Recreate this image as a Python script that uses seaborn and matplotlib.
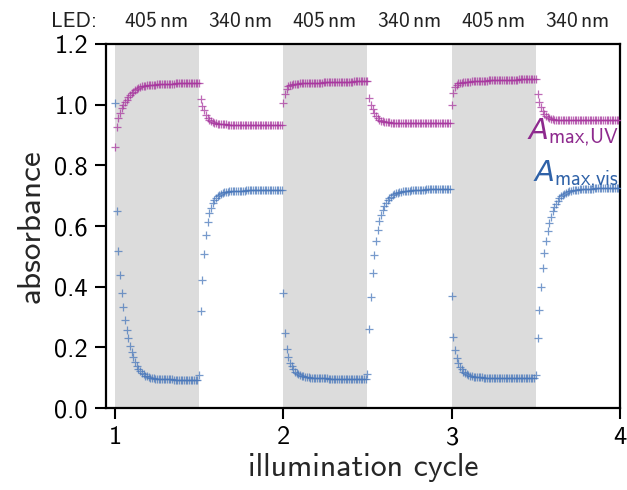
import numpy as np
import pandas as pd
import matplotlib
matplotlib.use("Agg")
import matplotlib.pyplot as plt
import matplotlib.transforms as mtransforms
import seaborn as sns

# ---------------- data ----------------
cycle_starts = [1.0, 1.5, 2.0, 2.5, 3.0, 3.5]
led_labels = [r"405$\,$nm", r"340$\,$nm", r"405$\,$nm", r"340$\,$nm", r"405$\,$nm", r"340$\,$nm"]
sample_step = 0.01

uv_c1_405 = [0.860, 0.927, 0.955, 0.974, 0.988, 0.999, 1.009, 1.017, 1.025, 1.032,
             1.038, 1.043, 1.048, 1.052, 1.055, 1.058, 1.060, 1.062, 1.063, 1.064,
             1.065, 1.065, 1.066, 1.066, 1.066, 1.067, 1.067, 1.067, 1.068, 1.068,
             1.068, 1.068, 1.069, 1.069, 1.069, 1.069, 1.070, 1.070, 1.070, 1.070,
             1.071, 1.071, 1.071, 1.071, 1.072, 1.072, 1.072, 1.072, 1.073, 1.073]
uv_c1_340 = [1.073, 1.019, 0.997, 0.981, 0.967, 0.957, 0.950, 0.945, 0.942, 0.940,
             0.938, 0.937, 0.936, 0.936, 0.935, 0.935, 0.935, 0.934, 0.934, 0.934,
             0.934, 0.934, 0.934, 0.933, 0.933, 0.933, 0.933, 0.933, 0.933, 0.933,
             0.933, 0.933, 0.933, 0.933, 0.933, 0.933, 0.933, 0.933, 0.933, 0.933,
             0.933, 0.933, 0.933, 0.933, 0.933, 0.933, 0.933, 0.933, 0.933, 0.933]
uv_c2_405 = [1.005, 1.035, 1.052, 1.060, 1.064, 1.066, 1.067, 1.068, 1.069, 1.069,
             1.070, 1.070, 1.071, 1.071, 1.071, 1.072, 1.072, 1.072, 1.072, 1.073,
             1.073, 1.073, 1.073, 1.073, 1.074, 1.074, 1.074, 1.074, 1.074, 1.075,
             1.075, 1.075, 1.075, 1.075, 1.075, 1.076, 1.076, 1.076, 1.076, 1.076,
             1.076, 1.076, 1.077, 1.077, 1.077, 1.077, 1.077, 1.077, 1.077, 1.077]
uv_c2_340 = [1.077, 1.022, 1.000, 0.985, 0.972, 0.962, 0.955, 0.950, 0.947, 0.945,
             0.944, 0.943, 0.942, 0.942, 0.941, 0.941, 0.941, 0.941, 0.940, 0.940,
             0.940, 0.940, 0.940, 0.940, 0.940, 0.940, 0.940, 0.940, 0.940, 0.940,
             0.940, 0.940, 0.940, 0.940, 0.940, 0.940, 0.940, 0.940, 0.940, 0.940,
             0.940, 0.940, 0.940, 0.940, 0.940, 0.940, 0.940, 0.940, 0.940, 0.940]
uv_c3_405 = [1.000, 1.040, 1.058, 1.066, 1.070, 1.072, 1.073, 1.074, 1.075, 1.075,
             1.076, 1.076, 1.077, 1.077, 1.077, 1.078, 1.078, 1.078, 1.079, 1.079,
             1.079, 1.079, 1.080, 1.080, 1.080, 1.080, 1.080, 1.081, 1.081, 1.081,
             1.081, 1.081, 1.081, 1.082, 1.082, 1.082, 1.082, 1.082, 1.082, 1.082,
             1.083, 1.083, 1.083, 1.083, 1.083, 1.083, 1.083, 1.083, 1.083, 1.083]
uv_c3_340 = [1.083, 1.035, 1.010, 0.992, 0.980, 0.970, 0.963, 0.958, 0.955, 0.953,
             0.952, 0.951, 0.951, 0.950, 0.950, 0.950, 0.950, 0.950, 0.950, 0.950,
             0.950, 0.950, 0.950, 0.950, 0.950, 0.950, 0.950, 0.950, 0.950, 0.950,
             0.950, 0.950, 0.950, 0.950, 0.950, 0.950, 0.950, 0.950, 0.950, 0.950,
             0.950, 0.950, 0.950, 0.950, 0.950, 0.950, 0.950, 0.950, 0.950, 0.950]

vis_c1_405 = [1.005, 0.650, 0.519, 0.437, 0.380, 0.333, 0.291, 0.257, 0.230, 0.205,
              0.185, 0.167, 0.152, 0.140, 0.130, 0.122, 0.116, 0.111, 0.107, 0.104,
              0.102, 0.100, 0.099, 0.098, 0.097, 0.097, 0.096, 0.096, 0.095, 0.095,
              0.095, 0.094, 0.094, 0.094, 0.094, 0.093, 0.093, 0.093, 0.093, 0.093,
              0.092, 0.092, 0.092, 0.092, 0.092, 0.092, 0.091, 0.091, 0.091, 0.091]
vis_c1_340 = [0.108, 0.319, 0.421, 0.507, 0.571, 0.613, 0.642, 0.660, 0.675, 0.685,
              0.693, 0.699, 0.703, 0.706, 0.709, 0.711, 0.712, 0.713, 0.714, 0.715,
              0.715, 0.716, 0.716, 0.716, 0.717, 0.717, 0.717, 0.717, 0.718, 0.718,
              0.718, 0.718, 0.718, 0.718, 0.719, 0.719, 0.719, 0.719, 0.719, 0.719,
              0.719, 0.719, 0.719, 0.719, 0.719, 0.719, 0.719, 0.719, 0.719, 0.719]
vis_c2_405 = [0.380, 0.246, 0.196, 0.168, 0.150, 0.137, 0.127, 0.120, 0.115, 0.111,
              0.108, 0.106, 0.104, 0.103, 0.102, 0.101, 0.100, 0.100, 0.099, 0.099,
              0.099, 0.098, 0.098, 0.098, 0.098, 0.098, 0.098, 0.097, 0.097, 0.097,
              0.097, 0.097, 0.097, 0.097, 0.097, 0.097, 0.097, 0.097, 0.097, 0.097,
              0.097, 0.097, 0.097, 0.097, 0.097, 0.097, 0.097, 0.097, 0.097, 0.097]
vis_c2_340 = [0.112, 0.262, 0.365, 0.445, 0.505, 0.551, 0.588, 0.616, 0.637, 0.654,
              0.667, 0.677, 0.685, 0.692, 0.697, 0.701, 0.705, 0.708, 0.710, 0.712,
              0.713, 0.714, 0.715, 0.716, 0.717, 0.717, 0.718, 0.718, 0.719, 0.719,
              0.719, 0.720, 0.720, 0.720, 0.720, 0.721, 0.721, 0.721, 0.721, 0.721,
              0.721, 0.722, 0.722, 0.722, 0.722, 0.722, 0.722, 0.722, 0.722, 0.722]
vis_c3_405 = [0.370, 0.234, 0.190, 0.165, 0.148, 0.136, 0.127, 0.120, 0.115, 0.111,
              0.108, 0.106, 0.104, 0.103, 0.102, 0.102, 0.101, 0.101, 0.101, 0.100,
              0.100, 0.100, 0.100, 0.100, 0.100, 0.100, 0.100, 0.100, 0.100, 0.100,
              0.100, 0.100, 0.100, 0.100, 0.100, 0.100, 0.100, 0.100, 0.100, 0.100,
              0.100, 0.100, 0.100, 0.100, 0.100, 0.100, 0.100, 0.100, 0.100, 0.100]
vis_c3_340 = [0.110, 0.232, 0.322, 0.398, 0.460, 0.510, 0.550, 0.583, 0.609, 0.630,
              0.648, 0.662, 0.674, 0.684, 0.692, 0.698, 0.703, 0.707, 0.710, 0.713,
              0.715, 0.717, 0.718, 0.719, 0.720, 0.720, 0.721, 0.721, 0.722, 0.722,
              0.722, 0.723, 0.723, 0.723, 0.723, 0.724, 0.724, 0.724, 0.724, 0.724,
              0.725, 0.725, 0.725, 0.725, 0.725, 0.725, 0.725, 0.725, 0.725, 0.725]

uv_segments = [uv_c1_405, uv_c1_340, uv_c2_405, uv_c2_340, uv_c3_405, uv_c3_340]
vis_segments = [vis_c1_405, vis_c1_340, vis_c2_405, vis_c2_340, vis_c3_405, vis_c3_340]


def build_frame(segs):
    rows = []
    for start, seg in zip(cycle_starts, segs):
        for i, v in enumerate(seg):
            rows.append({"cycle": start + i * sample_step, "absorbance": v})
    return pd.DataFrame(rows)


df_uv = build_frame(uv_segments)
df_vis = build_frame(vis_segments)

# ---------------- style ----------------
sns.set_theme(style="ticks")
plt.rcParams["font.family"] = ["cmss10", "DejaVu Sans"]
plt.rcParams["mathtext.fontset"] = "custom"
plt.rcParams["mathtext.rm"] = "cmss10"
plt.rcParams["mathtext.it"] = "DejaVu Sans:italic"
plt.rcParams["axes.formatter.use_mathtext"] = True
plt.rcParams["axes.unicode_minus"] = False

purple = "#a8389f"
blue = "#4a78bb"

fig = plt.figure(figsize=(6.27, 4.90), dpi=100)
ax = fig.add_axes([106 / 627, 1 - 408 / 490, (620 - 106) / 627, (408 - 44) / 490])

for s in [1.0, 2.0, 3.0]:
    ax.axvspan(s, s + 0.5, color="#dcdcdc", lw=0, zorder=0)

for d, col in ((df_uv, purple), (df_vis, blue)):
    sns.scatterplot(data=d, x="cycle", y="absorbance", color=col, edgecolor=col,
                    marker="+", s=30, linewidth=0.9, alpha=0.75, legend=False,
                    ax=ax, zorder=3)

ax.set_xlim(0.947, 4.0)
ax.set_ylim(0.0, 1.2)
ax.set_xticks([1, 2, 3, 4])
ax.set_yticks([0.0, 0.2, 0.4, 0.6, 0.8, 1.0, 1.2])
ax.set_yticklabels(["0.0", "0.2", "0.4", "0.6", "0.8", "1.0", "1.2"])
ax.tick_params(axis="both", direction="out", length=8, width=1.5, labelsize=19,
               colors="black", pad=5)
for sp in ax.spines.values():
    sp.set_linewidth(1.6)
    sp.set_color("black")
    sp.set_visible(True)

ax.set_xlabel("illumination cycle", fontsize=23, labelpad=3)
ax.set_ylabel("absorbance", fontsize=24, labelpad=6)

trans = mtransforms.blended_transform_factory(ax.transData, ax.transAxes)
ax.text(0.893, 1.062, "LED:", transform=trans, ha="right", va="center",
        fontsize=15.5, color="#222222")
for start, lab in zip(cycle_starts, led_labels):
    ax.text(start + 0.245, 1.062, lab, transform=trans, ha="center", va="center",
            fontsize=15.5, color="#222222")

ax.text(3.995, 0.887, r"$\mathit{A}_{\mathrm{max{,}UV}}$", color="#8e2a8e",
        ha="right", va="baseline", fontsize=21, zorder=4)
ax.text(3.995, 0.748, r"$\mathit{A}_{\mathrm{max{,}vis}}$", color="#2f62a8",
        ha="right", va="baseline", fontsize=21, zorder=4)

fig.savefig("out.png", dpi=100)
